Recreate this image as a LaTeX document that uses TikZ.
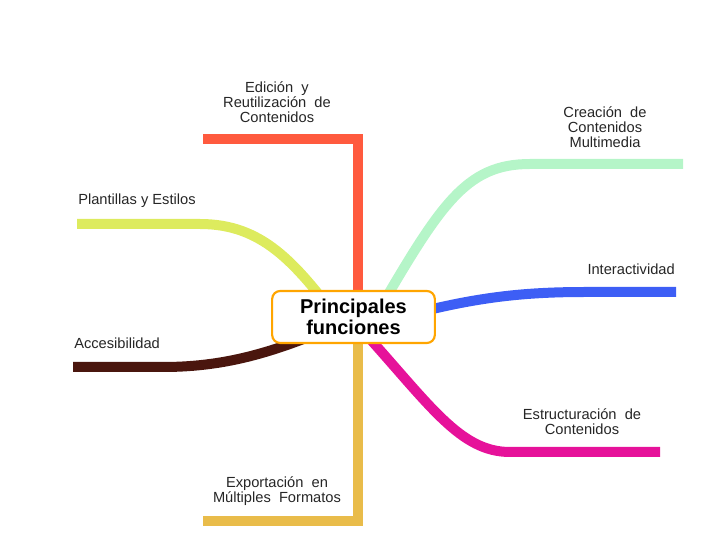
\documentclass[tikz,border=0pt]{standalone}
\usepackage{fontspec}
\setmainfont{Liberation Sans}
\definecolor{cred}{HTML}{FF5A3E}
\definecolor{cgold}{HTML}{E9BC4A}
\definecolor{cgreen}{HTML}{B5F5C8}
\definecolor{cblue}{HTML}{3D5EF5}
\definecolor{cmag}{HTML}{E6129A}
\definecolor{clime}{HTML}{DDEB5E}
\definecolor{cbrown}{HTML}{4A160E}
\definecolor{corange}{HTML}{FFA500}
\tikzset{
  branch/.style={line width=7.5pt, line cap=butt, line join=miter},
  lbl/.style={inner sep=0pt, align=center, font=\fontsize{11}{11.25}\selectfont, text=black!85},
  hub/.style={draw=corange, line width=1.6pt, rounded corners=6pt, fill=white,
    minimum width=122pt, minimum height=39pt, inner sep=0pt, align=center,
    font=\fontsize{15}{15.3}\selectfont\bfseries}
}
\begin{document}
\begin{tikzpicture}[x=0.75pt,y=-0.75pt]
\useasboundingbox (0,0) rectangle (708,552);
\coordinate (c) at (353.5,317);
% named points
\coordinate (rs) at (358,317);
\coordinate (re) at (203,139);
\coordinate (gs) at (358,317);
\coordinate (ge) at (203,521);
\coordinate (gr1) at (372,322);
\coordinate (gr2) at (530,164);
\coordinate (gr3) at (683,164);
\coordinate (bl1) at (375,324);
\coordinate (bl2) at (585,292);
\coordinate (bl3) at (676,292);
\coordinate (mg1) at (362,330);
\coordinate (mg2) at (510,452);
\coordinate (mg3) at (660,452);
\coordinate (li1) at (340,322);
\coordinate (li2) at (200,224);
\coordinate (li3) at (77,224);
\coordinate (br1) at (345,322);
\coordinate (br2) at (163,367);
\coordinate (br3) at (73,367);
% branches
\draw[branch,cred] (rs) |- (re);
\draw[branch,cgold] (gs) |- (ge);
\draw[branch,cgreen] (gr1) .. controls (440,205) and (465,164) .. (gr2) -- (gr3);
\draw[branch,cblue] (bl1) .. controls (460,300) and (510,292) .. (bl2) -- (bl3);
\draw[branch,cmag] (mg1) .. controls (430,405) and (460,452) .. (mg2) -- (mg3);
\draw[branch,clime] (li1) .. controls (295,262) and (262,224) .. (li2) -- (li3);
\draw[branch,cbrown] (br1) .. controls (280,350) and (230,367) .. (br2) -- (br3);
% hub
\node[hub] (hubnode) at (c) {Principales\\funciones};
% labels
\node[lbl] (t1) at (277,102) {Edición\ \ y\\Reutilización\ \ de\\Contenidos};
\node[lbl] (t2) at (277,491.5) {Exportación\ \ en\\Múltiples\ \ Formatos};
\node[lbl] (t3) at (605,127) {Creación\ \ de\\Contenidos\\Multimedia};
\node[lbl,anchor=east] (t4) at (675,269) {Interactividad};
\node[lbl] (t5) at (582,422) {Estructuración\ \ de\\Contenidos};
\node[lbl,anchor=west] (t6) at (78,201) {Plantillas y Estilos};
\node[lbl,anchor=west] (t7) at (74,343) {Accesibilidad};
\end{tikzpicture}
\end{document}
